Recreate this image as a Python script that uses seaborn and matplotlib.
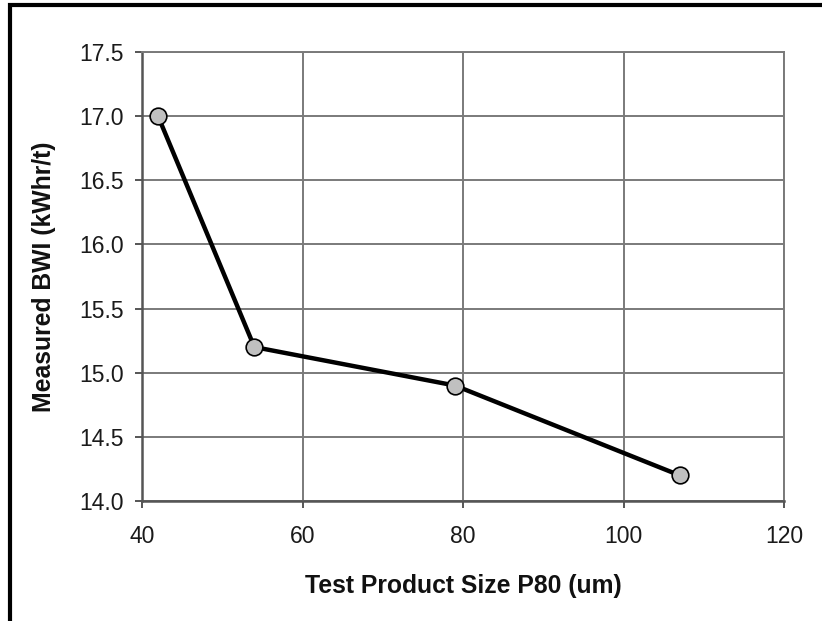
import matplotlib
matplotlib.use("Agg")
import matplotlib.pyplot as plt
import seaborn as sns
import pandas as pd
from matplotlib.patches import Rectangle

# Data
p80_um = [42, 54, 79, 107]
bwi_kwhr_t = [17.0, 15.2, 14.9, 14.2]
x_ticks = [40, 60, 80, 100, 120]
y_ticks = [14.0, 14.5, 15.0, 15.5, 16.0, 16.5, 17.0, 17.5]

df = pd.DataFrame({"P80": p80_um, "BWI": bwi_kwhr_t})

sns.set_theme(style="white")
plt.rcParams['font.family'] = ['Liberation Sans', 'DejaVu Sans']

fig = plt.figure(figsize=(8.22, 6.21), dpi=100)
ax = fig.add_axes([142/822, 1-501/621, (784-142)/822, (501-52)/621])

sns.lineplot(data=df, x="P80", y="BWI", ax=ax, color="black", linewidth=3.2,
             marker="o", markersize=12, markerfacecolor="#c0c0c0",
             markeredgecolor="black", markeredgewidth=1.2, zorder=5)

ax.set_xlim(40, 120)
ax.set_ylim(14.0, 17.5)
ax.set_xticks(x_ticks)
ax.set_xticklabels([str(v) for v in x_ticks])
ax.set_yticks(y_ticks)
ax.set_yticklabels([f"{v:.1f}" for v in y_ticks])

ax.grid(True, color="#7a7a7a", linewidth=1.4)
ax.set_axisbelow(True)
for side in ["top", "right"]:
    ax.spines[side].set_visible(True)
    ax.spines[side].set_color("#7a7a7a")
    ax.spines[side].set_linewidth(1.4)
for side in ["left", "bottom"]:
    ax.spines[side].set_color("#555555")
    ax.spines[side].set_linewidth(1.8)

ax.tick_params(axis="both", which="major", direction="out", length=5, width=1.4,
               color="#555555", labelsize=16.5, labelcolor="#1a1a1a",
               left=True, bottom=True)
ax.tick_params(axis="x", pad=12)
ax.tick_params(axis="y", pad=8)

ax.set_xlabel("Test Product Size P80 (um)", fontsize=17.8, fontweight="bold",
              color="#111111", labelpad=19)
ax.set_ylabel("Measured BWI (kWhr/t)", fontsize=17.8, fontweight="bold",
              color="#111111", labelpad=17)

# outer frame
fig.add_artist(Rectangle((10/822, -0.2), 1.2, 1.2 - 5/621, transform=fig.transFigure,
                         fill=False, edgecolor="black", linewidth=3))

fig.savefig("out.png", dpi=100, facecolor="white")
